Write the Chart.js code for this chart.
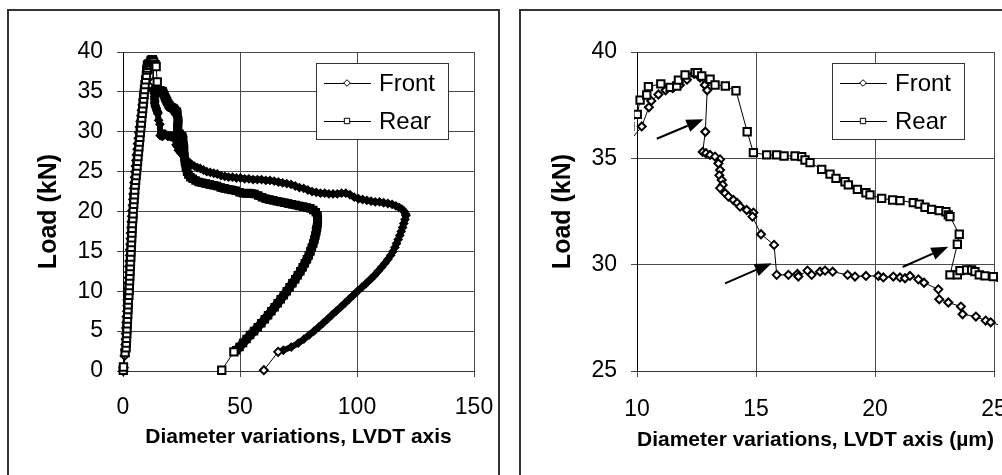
<!DOCTYPE html>
<html>
<head>
<meta charset="utf-8">
<script src="https://cdn.jsdelivr.net/npm/chart.js@4.4.0/dist/chart.umd.min.js"></script>
<style>
  html, body { margin: 0; padding: 0; background: #fff; overflow: hidden; width: 1002px; height: 475px; }
  .panel { position: absolute; box-sizing: border-box; border: 2px solid #333; top: 9px; width: 493px; height: 520px; }
  #p1 { left: 7px; }
  #p2 { left: 519px; }
  canvas { position: absolute; top: 11px; }
  #c1 { left: 9px; }
  #c2 { left: 521px; }
</style>
</head>
<body>
<div class="panel" id="p1"></div>
<div class="panel" id="p2"></div>
<canvas id="c1" width="489" height="464"></canvas>
<canvas id="c2" width="500" height="464"></canvas>
<script>
// [diameter variation, load]

// Front: loading branch (mostly hidden under Rear)
const frontRise = [[0.1,0.0],[0.3,0.4],[0.7,1.9],[1.0,2.6],[1.1,3.3],[1.2,4.0],[1.3,4.7],[1.4,5.4],[1.5,6.1],[1.6,6.8],[1.8,7.5],[1.9,8.2],[2.0,8.9],[2.2,9.6],[2.3,10.3],[2.4,11.0],[2.5,11.7],[2.6,12.4],[2.7,13.1],[2.8,13.8],[2.9,14.5],[3.0,15.2],[3.2,15.9],[3.3,16.6],[3.4,17.3],[3.6,18.0],[3.7,18.7],[3.9,19.4],[4.0,20.1],[4.2,20.8],[4.4,21.5],[4.5,22.2],[4.7,22.9],[4.9,23.6],[5.1,24.3],[5.3,25.0],[5.5,25.7],[5.7,26.4],[5.9,27.1],[6.2,27.8],[6.4,28.5],[6.7,29.2],[6.9,29.9],[7.2,30.6],[7.5,31.3],[7.8,32.0],[8.1,32.7],[8.4,33.4],[8.7,34.1],[9.0,34.8],[9.4,35.4]];
// Front: peak and first drops (zoomed panel)
const frontPeak = [[10.2,36.5],[10.5,37.4],[10.6,37.7],[10.9,38.0],[11.2,38.2],[11.5,38.3],[11.8,38.45],[12.1,38.7],[12.4,38.97],[12.65,38.8],[12.85,38.45],[12.95,38.2],[12.87,36.25],[12.76,35.3],[12.9,35.24],[13.07,35.16],[13.28,35.08],[13.49,34.95],[13.42,34.76],[13.49,34.45],[13.46,34.2],[13.56,33.98],[13.6,33.75],[13.49,33.6],[13.7,33.36],[13.84,33.2],[14.05,33.04],[14.21,32.9],[14.33,32.73],[14.61,32.57],[14.89,32.45],[14.85,32.26],[15.21,31.43],[15.76,30.93],[15.87,29.52],[16.36,29.52],[16.74,29.56],[16.78,29.44],[17.16,29.72],[17.34,29.52],[17.69,29.67],[17.9,29.72],[18.22,29.67],[18.85,29.52],[19.16,29.44],[19.62,29.47],[20.14,29.47],[20.35,29.4],[20.77,29.44],[21.05,29.4],[21.26,29.36],[21.47,29.47],[21.82,29.31],[22.06,29.15],[22.66,28.84],[22.7,28.37],[23.08,28.22],[23.61,28.03],[23.68,27.67],[24.24,27.56],[24.65,27.37],[24.86,27.29]];
// Front: long plateau out to ~120
const frontUpper = [[25.4,27.1],[26.0,26.9],[26.6,26.6],[27.3,26.4],[28.2,26.2],[29.3,25.9],[30.5,25.7],[31.8,25.5],[33.0,25.4],[34.4,25.2],[35.8,25.0],[37.3,24.9],[38.8,24.8],[40.3,24.7],[41.9,24.5],[43.5,24.4],[45.1,24.3],[46.8,24.3],[48.5,24.2],[50.2,24.2],[52.0,24.1],[53.8,24.1],[55.6,24.0],[57.4,24.0],[59.2,24.0],[61.0,23.9],[62.8,23.9],[64.6,23.8],[66.4,23.7],[68.2,23.6],[70.0,23.5],[71.8,23.4],[73.6,23.2],[75.4,23.0],[77.2,22.9],[79.0,22.7],[80.8,22.5],[82.6,22.4],[84.4,22.3],[86.2,22.3],[88.0,22.2],[89.8,22.2],[91.6,22.2],[93.4,22.3],[95.2,22.3],[97.0,22.1],[98.8,21.8],[100.6,21.6],[102.4,21.5],[104.2,21.4],[106.0,21.3],[107.8,21.2],[109.6,21.2],[111.4,21.1],[113.2,21.0],[115.0,20.9],[116.6,20.7],[118.0,20.5],[119.2,20.3],[120.2,20.0],[120.8,19.7]];
// Front: unloading
const frontDrop = [[120.9,19.5],[120.5,19.0],[120.0,18.5],[119.5,18.0],[118.9,17.5],[118.3,17.0],[117.6,16.5],[116.9,16.0],[116.2,15.5],[115.4,15.0],[114.4,14.5],[113.2,14.0],[111.9,13.5],[110.5,13.0],[109.0,12.5],[107.5,12.0],[105.8,11.5],[104.0,11.0],[102.1,10.5],[100.2,10.0],[98.4,9.5],[96.6,9.0],[94.8,8.5],[93.0,8.0],[91.1,7.5],[89.2,7.0],[87.4,6.5],[85.5,6.0],[83.6,5.5],[81.6,5.0],[79.5,4.5],[77.3,4.0],[74.9,3.5],[71.9,3.0],[68.5,2.6],[66.3,2.4],[60.2,0.1]];

// Rear
const rearRise = [[0.1,0.1],[0.2,0.5],[0.9,2.3],[1.3,2.9],[1.4,3.5],[1.5,4.1],[1.6,4.7],[1.7,5.3],[1.8,5.9],[1.9,6.5],[2.0,7.1],[2.1,7.7],[2.2,8.3],[2.3,8.9],[2.5,9.5],[2.6,10.1],[2.7,10.7],[2.8,11.3],[2.9,11.9],[3.0,12.5],[3.1,13.1],[3.2,13.7],[3.3,14.3],[3.4,14.9],[3.5,15.5],[3.6,16.1],[3.7,16.7],[3.8,17.3],[3.9,17.9],[4.0,18.5],[4.2,19.1],[4.3,19.7],[4.4,20.3],[4.6,20.9],[4.7,21.5],[4.9,22.1],[5.0,22.7],[5.2,23.3],[5.4,23.9],[5.6,24.5],[5.8,25.1],[6.0,25.7],[6.2,26.3],[6.4,26.9],[6.6,27.5],[6.8,28.1],[7.0,28.7],[7.2,29.3],[7.4,29.9],[7.6,30.5],[7.8,31.1],[8.0,31.7],[8.2,32.3],[8.4,32.9],[8.6,33.5],[8.8,34.1],[9.0,34.7],[9.2,35.3],[9.4,35.9],[9.7,36.5]];
const rearPeak = [[10.01,37.07],[10.13,37.74],[10.41,37.98],[10.48,38.37],[11.0,38.5],[11.39,38.34],[11.67,38.4],[11.74,38.68],[12.02,38.92],[12.44,39.03],[12.54,39.03],[12.72,38.87],[13.07,38.72],[13.28,38.45],[13.71,38.4],[14.16,38.18],[14.63,36.25],[14.89,35.27],[15.45,35.16],[15.87,35.16],[16.18,35.11],[16.64,35.11],[16.92,35.08],[17.06,34.92],[17.27,34.8],[17.76,34.48],[18.11,34.26],[18.36,34.06],[18.74,33.9],[18.88,33.75],[19.26,33.54],[19.62,33.38],[19.79,33.28],[20.28,33.12],[20.74,33.04],[21.05,33.01],[21.61,32.92],[21.86,32.85],[22.1,32.7],[22.38,32.6],[22.7,32.54],[22.98,32.49],[23.08,32.34],[23.15,32.26],[23.54,31.43],[23.46,30.96],[23.15,29.52],[23.46,29.52],[23.57,29.72],[23.85,29.75],[24.06,29.75],[24.2,29.67],[24.38,29.52],[24.62,29.47],[24.97,29.44]];
const rearLower = [[25.3,29.4],[25.6,29.0],[25.8,28.3],[26.0,27.6],[26.2,26.9],[26.5,26.2],[26.9,25.6],[27.4,25.0],[28.0,24.6],[28.8,24.3],[29.8,24.1],[31.0,23.9],[32.3,23.7],[33.8,23.6],[35.4,23.5],[37.0,23.4],[38.6,23.3],[40.2,23.2],[41.8,23.0],[43.4,22.9],[45.0,22.8],[46.6,22.7],[48.2,22.6],[49.8,22.4],[51.4,22.3],[53.0,22.3],[54.6,22.3],[56.2,22.2],[57.8,22.0],[59.4,21.8],[61.0,21.6],[62.6,21.5],[64.2,21.4],[65.8,21.3],[67.4,21.2],[69.0,21.1],[70.6,21.0],[72.2,20.9],[73.8,20.8],[75.4,20.7],[77.0,20.6],[78.6,20.5],[80.0,20.4],[81.3,20.2],[82.4,19.9],[83.1,19.5]];
const rearDrop = [[83.2,19.0],[83.1,18.5],[82.9,18.0],[82.6,17.5],[82.2,17.0],[81.8,16.5],[81.3,16.0],[80.7,15.5],[80.1,15.0],[79.4,14.5],[78.6,14.0],[77.7,13.5],[76.8,13.0],[75.8,12.5],[74.7,12.0],[73.6,11.5],[72.4,11.0],[71.2,10.5],[70.0,10.0],[68.7,9.5],[67.4,9.0],[66.1,8.5],[64.8,8.0],[63.4,7.5],[62.0,7.0],[60.6,6.5],[59.1,6.0],[57.6,5.5],[56.0,5.0],[54.3,4.5],[52.8,4.0],[51.3,3.5],[49.8,3.0],[48.4,2.6],[47.4,2.4],[42.2,0.1]];

const seriesNames = ['Front', 'Rear'];
const leftRange = { x: [0, 150, 50], y: [0, 40, 5] };
const rightRange = { x: [10, 25, 5], y: [25, 40, 5] };
const xTitles = ['Diameter variations, LVDT axis', 'Diameter variations, LVDT axis (\u00b5m)'];
const yTitle = 'Load (kN)';

// arrows in the zoomed panel, tail -> tip
const arrowTail = [[10.83, 35.92], [13.7, 29.12], [21.16, 29.89]];
const arrowTip = [[12.79, 36.84], [15.66, 30.07], [23.08, 30.84]];

const FONT = "'Liberation Sans', Arial, sans-serif";

function pts(...parts) {
  return parts.flat().map(p => ({ x: p[0], y: p[1] }));
}
const frontData = pts(frontRise, frontPeak, frontUpper, frontDrop);
const rearData = pts(rearRise, rearPeak, rearLower, rearDrop);

// on the full-range panel the measured points pile up into solid bands
// (from just after the peak drop down to the last two unloading points)
const denseRange = [
  [frontRise.length + 13, frontData.length - 2],
  [rearRise.length + 17, rearData.length - 2]
];

const styles = [
  { pointStyle: 'rectRot', pointRadius: 4, denseRadius: 3.5, bandWidth: 6, order: 1 },
  { pointStyle: 'rect', pointRadius: 5.2, denseRadius: 4.6, bandWidth: 9, order: 0 }
];

function makeDatasets(clip, solidBands) {
  return [frontData, rearData].map((d, i) => {
    const st = styles[i];
    const [s, e] = denseRange[i];
    const inBand = idx => solidBands && idx >= s && idx < e;
    return {
      label: seriesNames[i],
      data: d,
      showLine: true,
      borderColor: '#000',
      borderWidth: 1,
      borderJoinStyle: 'round',
      borderCapStyle: 'round',
      segment: { borderWidth: c => (inBand(c.p0DataIndex) && inBand(c.p1DataIndex)) ? st.bandWidth : 1 },
      pointBackgroundColor: c => inBand(c.dataIndex) ? '#000' : '#fff',
      pointBorderColor: '#000',
      pointBorderWidth: 2,
      pointStyle: st.pointStyle,
      pointRadius: c => inBand(c.dataIndex) ? st.denseRadius : st.pointRadius,
      pointHoverRadius: st.pointRadius,
      order: st.order,
      clip: clip
    };
  });
}

const boxLegend = {
  id: 'boxLegend',
  afterDatasetsDraw(chart, args, opts) {
    const ctx = chart.ctx;
    const a = chart.chartArea;
    const w = 132, h = 76;
    const x0 = Math.round(a.right - opts.right - w), y0 = Math.round(a.top + 11);
    ctx.save();
    ctx.fillStyle = '#fff';
    ctx.fillRect(x0, y0, w, h);
    ctx.strokeStyle = '#333';
    ctx.lineWidth = 1;
    ctx.strokeRect(x0 + 0.5, y0 + 0.5, w, h);
    chart.data.datasets.forEach((ds, i) => {
      const y = y0 + 20 + i * 38;
      ctx.strokeStyle = '#000';
      ctx.lineWidth = 1;
      ctx.beginPath();
      ctx.moveTo(x0 + 8, y + 0.5);
      ctx.lineTo(x0 + 55, y + 0.5);
      ctx.stroke();
      ctx.fillStyle = '#fff';
      Chart.helpers.drawPoint(ctx, { pointStyle: ds.pointStyle, radius: i ? 3.8 : 3.3, borderWidth: 1.8, rotation: 0 }, x0 + 31, y);
      ctx.fillStyle = '#000';
      ctx.font = '24px ' + FONT;
      ctx.textBaseline = 'middle';
      ctx.fillText(ds.label, x0 + 63, y + 1);
    });
    ctx.restore();
  }
};

const arrows = {
  id: 'arrows',
  afterDatasetsDraw(chart) {
    const { ctx, scales: { x, y } } = chart;
    ctx.save();
    ctx.strokeStyle = '#000';
    ctx.fillStyle = '#000';
    ctx.lineWidth = 2;
    arrowTail.forEach((f, i) => {
      const t = arrowTip[i];
      const x0 = x.getPixelForValue(f[0]), y0 = y.getPixelForValue(f[1]);
      const x1 = x.getPixelForValue(t[0]), y1 = y.getPixelForValue(t[1]);
      const ang = Math.atan2(y1 - y0, x1 - x0);
      const hl = 17, hw = 6.5;
      const bx = x1 - hl * Math.cos(ang), by = y1 - hl * Math.sin(ang);
      ctx.beginPath();
      ctx.moveTo(x0, y0);
      ctx.lineTo(bx, by);
      ctx.stroke();
      ctx.beginPath();
      ctx.moveTo(x1, y1);
      ctx.lineTo(bx + hw * Math.sin(ang), by - hw * Math.cos(ang));
      ctx.lineTo(bx - hw * Math.sin(ang), by + hw * Math.cos(ang));
      ctx.closePath();
      ctx.fill();
    });
    ctx.restore();
  }
};

function makeChart(id, o) {
  return new Chart(document.getElementById(id), {
    type: 'scatter',
    data: { datasets: makeDatasets(o.clip, o.solidBands) },
    plugins: o.plugins,
    options: {
      responsive: false,
      animation: false,
      events: [],
      layout: { padding: { top: 41, right: o.padRight, bottom: 0, left: 0 } },
      plugins: {
        legend: { display: false },
        tooltip: { enabled: false },
        boxLegend: { right: o.legendRight }
      },
      scales: {
        x: {
          type: 'linear',
          min: o.range.x[0], max: o.range.x[1],
          ticks: { stepSize: o.range.x[2], padding: o.xTickPad, color: '#000', font: { family: FONT, size: 23 } },
          grid: { color: '#4a4a4a', tickLength: 6 },
          border: { color: '#333' },
          title: { display: true, text: o.xTitle, color: '#000', font: { family: FONT, size: 21, weight: 'bold' }, padding: { top: 0, bottom: o.xTitlePad } },
          afterFit(s) { s.height = 104; s.paddingLeft = 0; s.paddingRight = 0; }
        },
        y: {
          type: 'linear',
          min: o.range.y[0], max: o.range.y[1],
          ticks: { stepSize: o.range.y[2], padding: 14, color: '#000', font: { family: FONT, size: 23 } },
          grid: { color: '#4a4a4a', tickLength: 6 },
          border: { color: '#000' },
          title: { display: true, text: yTitle, color: '#000', font: { family: FONT, size: 25, weight: 'bold' }, padding: { top: o.yTitlePad, bottom: 0 } },
          afterFit(s) { s.width = o.yWidth; s.paddingTop = 0; s.paddingBottom = 0; }
        }
      }
    }
  });
}

makeChart('c1', {
  range: leftRange, xTitle: xTitles[0], clip: false, solidBands: true, plugins: [boxLegend],
  padRight: 24, legendRight: 26, yWidth: 114, xTickPad: 17, xTitlePad: 25, yTitlePad: 25
});
makeChart('c2', {
  range: rightRange, xTitle: xTitles[1], clip: { left: 3, top: 5, right: 4, bottom: 0 }, solidBands: false, plugins: [arrows, boxLegend],
  padRight: 27, legendRight: 30, yWidth: 116, xTickPad: 19, xTitlePad: 22, yTitlePad: 27
});
</script>
</body>
</html>
